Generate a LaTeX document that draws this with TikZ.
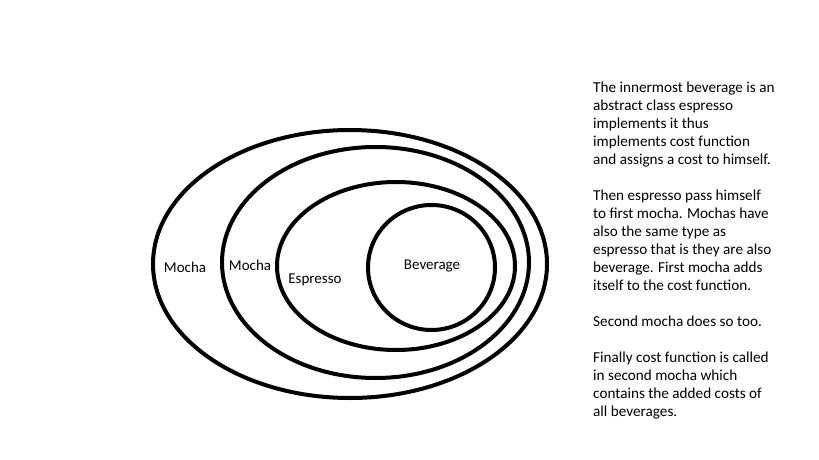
\documentclass[tikz,border=0pt]{standalone}
\usepackage{fontspec}
\setmainfont{Carlito}
\begin{document}
\begin{tikzpicture}[x=1pt,y=-1pt,
  ring/.style={draw=black,line width=4pt},
  lbl/.style={font=\fontsize{15}{18}\selectfont,inner sep=0pt},
  para/.style={font=\fontsize{15.2}{18}\selectfont,inner sep=0pt,align=left,anchor=north west}]
\fill[white] (0,0) rectangle (819,460);
\useasboundingbox (0,0) rectangle (819,460);
\draw[ring] (350,264) ellipse [x radius=197,y radius=134];
\draw[ring] (375.5,262.5) ellipse [x radius=153.5,y radius=115.5];
\draw[ring] (396,266) ellipse [x radius=119,y radius=84];
\draw[ring] (431.5,267.5) ellipse [x radius=63.5,y radius=62.5];
\node[lbl] (m1) at (185,267) {Mocha};
\node[lbl] (m2) at (250,265) {Mocha};
\node[lbl] (es) at (315,280) {Espresso};
\node[lbl] (bv) at (432,266) {Beverage};
\node[para] (txt) at (593,82) {The innermost beverage is an\\
abstract class espresso\\
implements it thus\\
implements cost function\\
and assigns a cost to himself.\\[18pt]
Then espresso pass himself\\
to first mocha. Mochas have\\
also the same type as\\
espresso that is they are also\\
beverage. First mocha adds\\
itself to the cost function.\\[18pt]
Second mocha does so too.\\[18pt]
Finally cost function is called\\
in second mocha which\\
contains the added costs of\\
all beverages.};
\end{tikzpicture}
\end{document}
